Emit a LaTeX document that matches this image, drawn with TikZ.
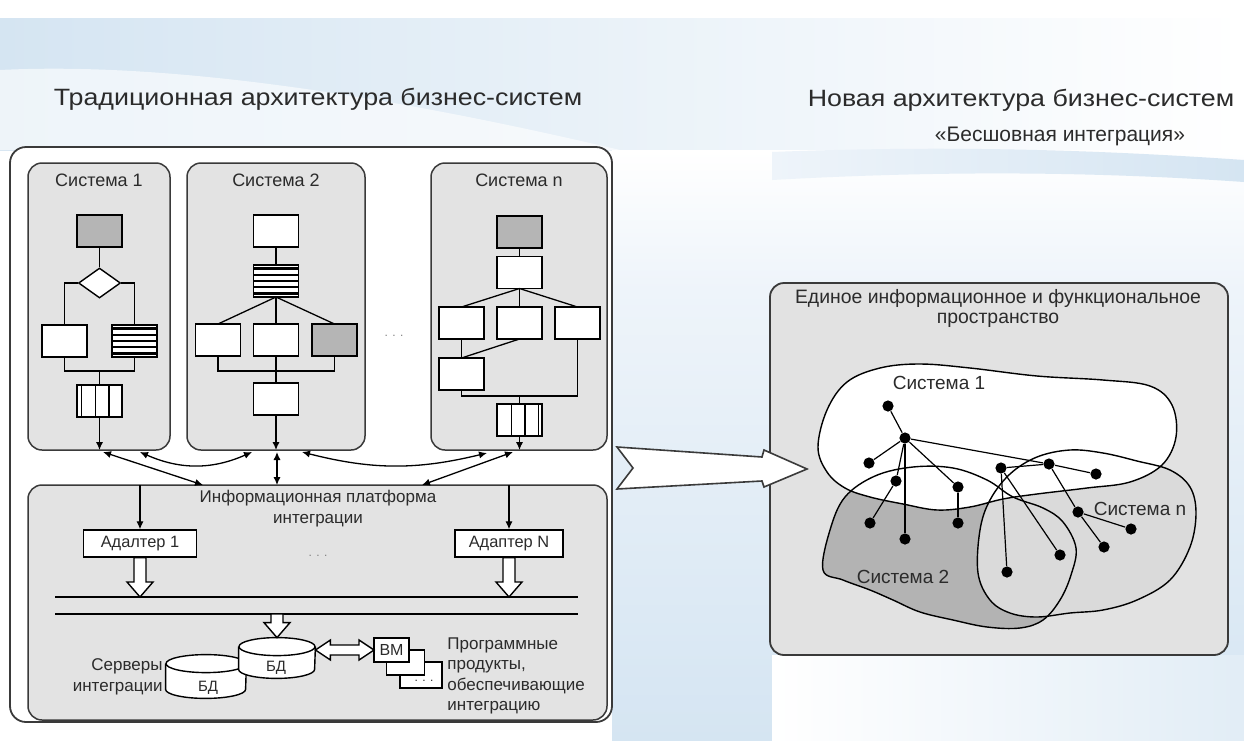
\documentclass[tikz,border=0pt]{standalone}
\usepackage{fontspec}
\usepackage{graphicx}
\setmainfont{Liberation Sans}
\usetikzlibrary{calc,arrows.meta,shapes.geometric}

\definecolor{panelgray}{HTML}{E3E3E3}
\definecolor{boxgray}{HTML}{B5B5B5}
\definecolor{blobdark}{HTML}{B3B3B3}
\definecolor{blobn}{HTML}{DADADA}
\definecolor{rightgray}{HTML}{E2E2E2}
\definecolor{linegray}{HTML}{3A3A3A}
\definecolor{txtgray}{HTML}{2B2B2B}
\definecolor{skyA}{HTML}{D5E5F2}
\definecolor{skyB}{HTML}{EEF4FA}

\tikzset{
  panel/.style={draw=linegray, line width=0.9pt, rounded corners=8pt, inner sep=0pt, outer sep=0pt},
  sysbox/.style={panel, fill=panelgray, line width=0.75pt, rounded corners=7pt},
  fbox/.style={draw=black, line width=0.7pt, fill=white, minimum width=22.5pt, minimum height=16pt, inner sep=0pt, outer sep=0pt},
  gbox/.style={fbox, fill=boxgray},
  stripebox/.style={fbox, path picture={
      \coordinate (nw) at (path picture bounding box.north west);
      \coordinate (se) at (path picture bounding box.south east);
      \foreach \f in {0.12,0.31,0.5,0.69,0.88}{
        \draw[line width=1.35pt] ($(nw)!\f!(nw|-se)$) -- ($(se|-nw)!\f!(se)$);}}},
  queuebox/.style={fbox, path picture={
      \coordinate (nw) at (path picture bounding box.north west);
      \coordinate (se) at (path picture bounding box.south east);
      \foreach \f in {#1}{
        \draw[line width=0.7pt] ($(nw)!\f!(se|-nw)$) -- ($(nw|-se)!\f!(se)$);}}},
  link/.style={draw=black, line width=0.65pt},
  tip/.style={link, -{Latex[length=4pt,width=3.6pt]}},
  both/.style={link, {Latex[length=4pt,width=3.6pt]}-{Latex[length=4pt,width=3.6pt]}},
  txt/.style={text=txtgray, inner sep=0pt, font=\fontsize{8.5pt}{10.5pt}\selectfont},
  systitle/.style={text=txtgray, inner sep=0pt, font=\fontsize{9pt}{10pt}\selectfont},
  small/.style={text=txtgray, inner sep=0pt, font=\fontsize{7.5pt}{9pt}\selectfont},
  adapter/.style={draw=black, line width=0.7pt, fill=white, minimum height=13.5pt, inner sep=0pt,
      text=txtgray, font=\fontsize{8.2pt}{9pt}\selectfont},
  hollowdown/.style={draw=black, line width=0.7pt, fill=white, to path={
      let \p1=(\tikztostart), \p2=(\tikztotarget) in
      (\x1-3pt,\y1) -- (\x1-3pt,\y2+7.5pt) -- (\x1-6.5pt,\y2+7.5pt) -- (\x1,\y2)
      -- (\x1+6.5pt,\y2+7.5pt) -- (\x1+3pt,\y2+7.5pt) -- (\x1+3pt,\y1) -- cycle}},
  hollowboth/.style={draw=black, line width=0.7pt, fill=white, to path={
      let \p1=(\tikztostart), \p2=(\tikztotarget) in
      (\x1,\y1) -- (\x1+7.5pt,\y1+5pt) -- (\x1+7.5pt,\y1+2.5pt) -- (\x2-7.5pt,\y1+2.5pt)
      -- (\x2-7.5pt,\y1+5pt) -- (\x2,\y1) -- (\x2-7.5pt,\y1-5pt) -- (\x2-7.5pt,\y1-2.5pt)
      -- (\x1+7.5pt,\y1-2.5pt) -- (\x1+7.5pt,\y1-5pt) -- cycle}},
  dot/.style={circle, fill=black, minimum size=5.6pt, inner sep=0pt},
  net/.style={draw=black, line width=0.6pt},
  blob/.style={draw=black, line width=0.7pt},
  heading/.style={text=txtgray, inner sep=0pt, anchor=base},
}

\begin{document}
\begin{tikzpicture}[x=0.5pt,y=-0.5pt]
\useasboundingbox (0,0) rectangle (1244,740);

% ---------- slide background ----------
\fill[white] (0,0) rectangle (1244,740);
\shade[left color=skyA, right color=white] (0,18) rectangle (1244,150);
\fill[white, opacity=0.6] (0,70) .. controls (200,60) and (450,110) .. (620,150) -- (0,150) -- cycle;
\shade[top color=white, bottom color=skyB] (612,150) rectangle (1244,290);
\shade[left color=skyB, right color=skyA] (772,152) .. controls (950,145) and (1100,150) .. (1244,160)
   -- (1244,182) .. controls (1100,172) and (950,170) .. (772,180) -- cycle;
\shade[top color=skyB, bottom color=skyA] (612,290) rectangle (1244,740);
\shade[left color=white, right color=skyA!70] (772,655) rectangle (1244,740);

% ---------- headings ----------
\node[heading, font=\fontsize{13.4pt}{15pt}\selectfont] (h1) at (318,105) {\scalebox{1}[0.88]{Традиционная архитектура бизнес-систем}};
\node[heading, font=\fontsize{13.4pt}{15pt}\selectfont] (h2) at (1021,106) {\scalebox{1}[0.88]{Новая архитектура бизнес-систем}};
\node[heading, font=\fontsize{10.5pt}{12pt}\selectfont] (h3) at (1060,141) {«Бесшовная интеграция»};

% ---------- traditional architecture ----------
\node[panel, fill=white, minimum width=301pt, minimum height=287.5pt] (lp) at (311,434.5) {};

\node[sysbox, minimum width=71pt, minimum height=143.5pt] (sys1) at (99,306.5) {};
\node[sysbox, minimum width=89pt, minimum height=143.5pt] (sys2) at (276,306.5) {};
\node[sysbox, minimum width=88pt, minimum height=143.5pt] (sysn) at (519,306.5) {};
\node[systitle] (t1) at (99,180) {Система 1};
\node[systitle] (t2) at (276,180) {Система 2};
\node[systitle] (tn) at (519,180) {Система n};
\node[text=gray, font=\fontsize{6pt}{7pt}\selectfont] (gap) at (394,336) {. . .};

% system 1
\node[gbox] (s1a) at (99.5,231) {};
\node[draw=black, line width=0.7pt, fill=white, shape=diamond, minimum width=21pt, minimum height=15pt, inner sep=0pt] (s1d) at (99.5,283) {};
\node[fbox] (s1b) at (64.5,341) {};
\node[stripebox] (s1c) at (134.5,341) {};
\node[queuebox={0.1,0.41,0.71}] (s1q) at (99.5,401) {};
\coordinate (j1) at (99.5,371);
\draw[link] (s1a) -- (s1d);
\draw[link] (s1d.west) -| (s1b.north);
\draw[link] (s1d.east) -| (s1c.north);
\draw[link] (s1b.south) |- (j1) -| (s1c.south);
\draw[link] (j1) -- (s1q);
\draw[tip] (s1q.south) -- (s1q.south |- sys1.south);

% system 2
\node[fbox] (s2a) at (276,231) {};
\node[stripebox] (s2s) at (276,281) {};
\node[fbox] (s2l) at (218,340) {};
\node[fbox] (s2m) at (276,340) {};
\node[gbox] (s2r) at (334.5,340) {};
\node[fbox] (s2b) at (276,399) {};
\coordinate (j2) at (276,371);
\draw[link] (s2a) -- (s2s);
\draw[link] (s2s.south) -- (s2l.north);
\draw[link] (s2s.south) -- (s2m.north);
\draw[link] (s2s.south) -- (s2r.north);
\draw[link] (s2l.south) |- (j2) -| (s2r.south);
\draw[link] (s2m) -- (s2b);
\draw[tip] (s2b.south) -- (s2b.south |- sys2.south);

% system n
\node[gbox] (sna) at (519.5,232) {};
\node[fbox] (snb) at (519.5,272.5) {};
\node[fbox] (snl) at (461.5,323) {};
\node[fbox] (snm) at (519.5,323) {};
\node[fbox] (snr) at (577.5,323) {};
\node[fbox] (snd) at (461.5,374) {};
\node[queuebox={0.32,0.62,0.92}] (snq) at (519.5,420) {};
\coordinate (jn) at (519.5,396);
\draw[link] (sna) -- (snb);
\draw[link] (snb.south) -- (snl.north);
\draw[link] (snb.south) -- (snm.north);
\draw[link] (snb.south) -- (snr.north);
\draw[link] (snl) -- (snd);
\draw[link] (snm.south) -- (snd.north);
\draw[link] (snd.south) |- (jn) -| (snr.south);
\draw[link] (jn) -- (snq);
\draw[tip] (snq.south) -- (snq.south |- sysn.south);

% integration platform
\node[sysbox, minimum width=289.5pt, minimum height=117.5pt] (plat) at (317.5,602.5) {};
\node[txt, align=center] (ptitle) at (318,509) {Информационная платформа\\интеграции};
\node[adapter, minimum width=56.5pt] (ad1) at (140,543.5) {Адалтер 1};
\node[adapter, minimum width=54pt] (adN) at (509,543.5) {Адаптер N};
\node[text=gray, font=\fontsize{6pt}{7pt}\selectfont] (gap2) at (318,556) {. . .};

% links between the systems and the platform
\coordinate (k1) at (103,452);  \coordinate (p1) at (203,485);
\coordinate (k2) at (140,452);  \coordinate (k3) at (252,452);
\coordinate (k4) at (277,452);  \coordinate (p2) at (277,485);
\coordinate (k5) at (302,452);  \coordinate (k6) at (487,453);
\coordinate (k7) at (513,452);  \coordinate (p3) at (422,485);
\draw[both] (k1) -- (p1);
\draw[both] (k2) to[bend right=24] (k3);
\draw[both] (k4) -- (p2);
\draw[both] (k5) to[bend right=14] (k6);
\draw[both] (k7) -- (p3);

\draw[tip] (ad1.north |- plat.north) -- (ad1.north);
\draw[tip] (adN.north |- plat.north) -- (adN.north);

% data buses
\coordinate (bus1l) at (55,597);  \coordinate (bus1r) at (578,597);
\coordinate (bus2l) at (55,614);  \coordinate (bus2r) at (578,614);
\draw[line width=0.8pt] (bus1l) -- (bus1r);
\draw[line width=0.8pt] (bus2l) -- (bus2r);
\draw[hollowdown] (ad1.south) to (ad1.south |- bus1l);
\draw[hollowdown] (adN.south) to (adN.south |- bus1l);

% integration servers
\node[minimum width=40pt, minimum height=21.5pt] (db2) at (206,676.5) {};
\node[minimum width=38pt, minimum height=20pt] (db1) at (277,658) {};
\draw[fill=white, line width=0.7pt] ($(db2.north west)+(0,9)$) -- ($(db2.south west)+(0,-9)$)
   arc[start angle=180, end angle=360, x radius=20pt, y radius=4.5pt] -- ($(db2.north east)+(0,9)$);
\draw[fill=white, line width=0.7pt] ($(db2.north)+(0,9)$) ellipse [x radius=20pt, y radius=4.5pt];
\draw[fill=white, line width=0.7pt] ($(db1.north west)+(0,9)$) -- ($(db1.south west)+(0,-9)$)
   arc[start angle=180, end angle=360, x radius=19pt, y radius=4.5pt] -- ($(db1.north east)+(0,9)$);
\draw[fill=white, line width=0.7pt] ($(db1.north)+(0,9)$) ellipse [x radius=19pt, y radius=4.5pt];
\node[small] (db1l) at (276,668) {БД};
\node[small] (db2l) at (208,688) {БД};
\node[txt, align=right, anchor=east] (srv) at (163,677) {Серверы\\интеграции};
\draw[hollowdown] (db1.north |- bus2l) to (db1.north);

% integration software
\node[fbox, minimum width=21pt, minimum height=13pt] (vm3) at (421,675) {};
\node[text=txtgray, font=\fontsize{6pt}{7pt}\selectfont] (vm3t) at (424,681) {. . .};
\node[fbox, minimum width=19pt, minimum height=12.5pt] (vm2) at (405.5,662.5) {};
\node[fbox, minimum width=17.5pt, minimum height=12pt, text=txtgray, font=\fontsize{8pt}{9pt}\selectfont] (vm) at (391.5,650) {ВМ};
\draw[hollowboth] (db1.east |- vm.west) to (vm.west);
\node[txt, align=left, anchor=west, font=\fontsize{8.5pt}{10.25pt}\selectfont] (soft) at (447,676) {Программные\\продукты,\\обеспечивающие\\интеграцию};

% ---------- new architecture ----------
\node[panel, fill=rightgray, minimum width=229pt, minimum height=186pt, rounded corners=7pt] (rp) at (999,469) {};
\node[txt, align=center, font=\fontsize{9.7pt}{10pt}\selectfont] (rtitle) at (998,308) {Единое информационное и функциональное\\пространство};

% system areas
\fill[blobdark] plot[smooth cycle, tension=0.6] coordinates {(823,570) (830,530) (845,497) (875,476) (913,467) (953,468) (987,480) (1013,497) (1043,508) (1063,522) (1076,548) (1071,575) (1060,600) (1043,620) (1020,628) (987,627) (953,620) (920,612) (893,600) (870,590) (843,580)};
\fill[blobn] plot[smooth cycle, tension=0.6] coordinates {(978,573) (980,530) (990,500) (1010,474) (1037,457) (1070,450) (1103,453) (1137,461) (1170,470) (1190,487) (1196,513) (1190,547) (1170,580) (1137,600) (1103,610) (1070,613) (1037,617) (1010,613) (990,600)};
\fill[white] plot[smooth cycle, tension=0.6] coordinates {(818,447) (827,410) (847,382) (880,368) (920,364) (970,368) (1037,376) (1103,380) (1150,386) (1172,405) (1176,437) (1162,465) (1130,482) (1087,488) (1037,494) (1003,499) (970,507) (937,510) (903,504) (870,497) (845,488) (827,472)};
\draw[blob] plot[smooth cycle, tension=0.6] coordinates {(823,570) (830,530) (845,497) (875,476) (913,467) (953,468) (987,480) (1013,497) (1043,508) (1063,522) (1076,548) (1071,575) (1060,600) (1043,620) (1020,628) (987,627) (953,620) (920,612) (893,600) (870,590) (843,580)};
\draw[blob] plot[smooth cycle, tension=0.6] coordinates {(978,573) (980,530) (990,500) (1010,474) (1037,457) (1070,450) (1103,453) (1137,461) (1170,470) (1190,487) (1196,513) (1190,547) (1170,580) (1137,600) (1103,610) (1070,613) (1037,617) (1010,613) (990,600)};
\draw[blob] plot[smooth cycle, tension=0.6] coordinates {(818,447) (827,410) (847,382) (880,368) (920,364) (970,368) (1037,376) (1103,380) (1150,386) (1172,405) (1176,437) (1162,465) (1130,482) (1087,488) (1037,494) (1003,499) (970,507) (937,510) (903,504) (870,497) (845,488) (827,472)};

\node[txt, font=\fontsize{9.5pt}{10pt}\selectfont] (b1) at (939,383) {Система 1};
\node[txt, font=\fontsize{9.5pt}{10pt}\selectfont] (b2) at (903,577) {Система 2};
\node[txt, font=\fontsize{9.5pt}{10pt}\selectfont] (bn) at (1140,509) {Система n};

% functions and their links
\node[dot] (d1) at (888,406) {};
\node[dot] (d2) at (905,438) {};
\node[dot] (d3) at (869,463) {};
\node[dot] (d4) at (896,481) {};
\node[dot] (d5) at (958,487) {};
\node[dot] (d6) at (870,523) {};
\node[dot] (d7) at (905,539) {};
\node[dot] (d8) at (958,523) {};
\node[dot] (d9) at (1001,468) {};
\node[dot] (d10) at (1049,464) {};
\node[dot] (d11) at (1096,474) {};
\node[dot] (d12) at (1078,512) {};
\node[dot] (d13) at (1131,529) {};
\node[dot] (d14) at (1104,547) {};
\node[dot] (d15) at (1060,555) {};
\node[dot] (d16) at (1007,572) {};
\draw[net] (d1) -- (d2);
\draw[net] (d2) -- (d3);
\draw[net] (d2) -- (d4);
\draw[net] (d2) -- (d7);
\draw[net] (d2) -- (d5);
\draw[net] (d2) -- (d10);
\draw[net] (d4) -- (d6);
\draw[net] (d5) -- (d8);
\draw[net] (d9) -- (d10);
\draw[net] (d9) -- (d16);
\draw[net] (d9) -- (d15);
\draw[net] (d10) -- (d11);
\draw[net] (d10) -- (d12);
\draw[net] (d12) -- (d13);
\draw[net] (d12) -- (d14);

% transition arrow
\coordinate (ar1) at (617,447);
\coordinate (ar2) at (762,457);
\coordinate (ar3) at (764,450);
\coordinate (ar4) at (807,469);
\coordinate (ar5) at (764,487);
\coordinate (ar6) at (762,481);
\coordinate (ar7) at (617,489);
\coordinate (ar8) at (633,468);
\draw[draw=linegray, line width=0.8pt, fill=white, line join=miter]
   (ar1) -- (ar2) -- (ar3) -- (ar4) -- (ar5) -- (ar6) -- (ar7) -- (ar8) -- cycle;
\end{tikzpicture}
\end{document}
